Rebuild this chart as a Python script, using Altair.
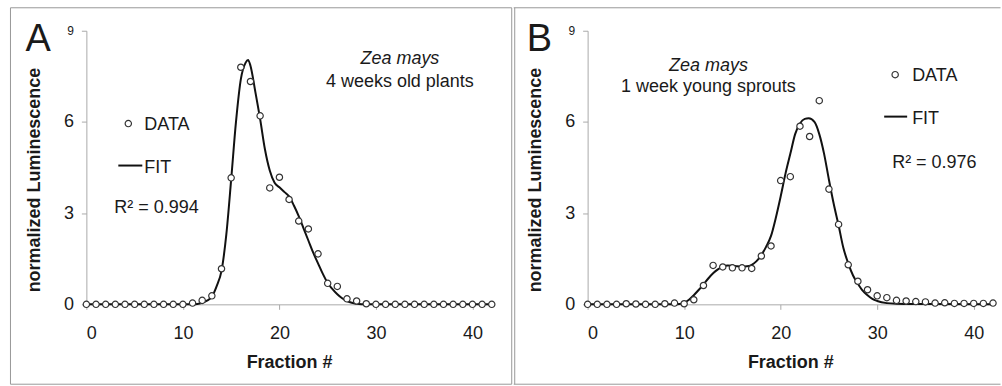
import altair as alt
import pandas as pd

# ---------------- data ----------------
fractions = [0, 1, 2, 3, 4, 5, 6, 7, 8, 9, 10, 11, 12, 13, 14, 15, 16, 17, 18, 19, 20,
             21, 22, 23, 24, 25, 26, 27, 28, 29, 30, 31, 32, 33, 34, 35, 36, 37, 38, 39, 40, 41, 42]

data_a = [0, 0, 0, 0, 0, 0, 0, 0, 0, 0, 0,
          0.04, 0.13, 0.28, 1.17, 4.16, 7.8, 7.33, 6.2, 3.83, 4.18,
          3.45, 2.74, 2.48, 1.66, 0.69, 0.59, 0.18, 0.11, 0.02, 0,
          0, 0, 0, 0, 0, 0, 0, 0, 0, 0, 0, 0]

data_b = [0, 0, 0, 0, 0.02, 0.01, 0, 0, 0.02, 0.04, 0.02,
          0.15, 0.62, 1.28, 1.23, 1.2, 1.2, 1.18, 1.59, 1.92, 4.07,
          4.2, 5.86, 5.52, 6.7, 3.79, 2.63, 1.3, 0.76, 0.48, 0.28,
          0.22, 0.13, 0.11, 0.09, 0.08, 0.04, 0.05, 0.03, 0.03, 0.03, 0.03, 0.04]

fit_a_x = [0, 11, 11.5, 12, 12.5, 13, 13.5, 14, 14.5, 15, 15.5, 16, 16.5, 16.75, 17, 17.5,
           18, 18.5, 19, 19.5, 20, 20.5, 21, 21.5, 22, 22.5, 23, 23.5, 24, 24.5, 25, 25.5,
           26, 26.5, 27, 27.5, 28, 29, 42]
fit_a_y = [0, 0, 0.01, 0.05, 0.12, 0.25, 0.6, 1.1, 2.3, 4.1, 6.0, 7.4, 7.95, 8.04, 7.85, 7.0,
           6.1, 5.1, 4.4, 4.0, 3.85, 3.7, 3.55, 3.25, 2.9, 2.5, 2.1, 1.7, 1.35, 1.0, 0.7, 0.5,
           0.33, 0.2, 0.11, 0.05, 0.02, 0, 0]

fit_b_x = [0, 9, 9.5, 10, 10.5, 11, 11.5, 12, 12.5, 13, 13.5, 14, 14.5, 15, 15.5, 16, 16.5,
           17, 17.5, 18, 18.5, 19, 19.5, 20, 20.5, 21, 21.5, 22, 22.5, 22.9, 23.5, 24, 24.5,
           25, 25.5, 26, 26.5, 27, 27.5, 28, 28.5, 29, 29.5, 30, 31, 32, 34, 42]
fit_b_y = [0, 0, 0.01, 0.05, 0.15, 0.3, 0.47, 0.65, 0.85, 1.02, 1.15, 1.24, 1.28, 1.27, 1.25,
           1.24, 1.25, 1.3, 1.42, 1.62, 1.9, 2.25, 2.85, 3.55, 4.3, 4.95, 5.6, 5.95, 6.1, 6.12,
           6.0, 5.6, 4.95, 4.1, 3.3, 2.6, 1.85, 1.35, 0.95, 0.68, 0.45, 0.3, 0.18, 0.11, 0.04,
           0.02, 0.01, 0]

x_ticks = [0, 10, 20, 30, 40]
y_ticks = [0, 3, 6, 9]

FONT = "Liberation Sans"
TXT = "#1a1a1a"
AXISC = "#aaaaaa"
FRAME = "#999999"
W, H = 406, 274

one = pd.DataFrame({"k": [0]})


def panel(points, fit_x, fit_y, letter, species_y, sub_text, sub_y, ann_x,
          leg_circle, leg_data_text, leg_line, leg_fit_text, r2_pos, r2_text, frame_layers):
    pts = pd.DataFrame({"Fraction": fractions, "Lum": points})
    fit = pd.DataFrame({"Fraction": fit_x, "Lum": fit_y})

    xs = alt.Scale(domain=[0, 42], nice=False, zero=False)
    ys = alt.Scale(domain=[0, 9], nice=False)
    xax = alt.Axis(values=x_ticks, title="Fraction #", grid=False, tickSize=5,
                   labelPadding=15, titleY=58, titleBaseline="middle")
    yax = alt.Axis(values=y_ticks, title="normalized Luminescence", grid=False, tickSize=5,
                   labelPadding=8, titleX=-52, titleY=149, titleAngle=270,
                   titleAlign="center", titleBaseline="middle",
                   labelFontSize={"expr": "datum.value === 9 ? 12 : 18"})

    line = alt.Chart(fit).mark_line(color="#111111", strokeWidth=2, interpolate="monotone").encode(
        x=alt.X("Fraction:Q", scale=xs, axis=xax),
        y=alt.Y("Lum:Q", scale=ys, axis=yax),
    )
    dots = alt.Chart(pts).mark_point(shape="circle", filled=False, fill="white", fillOpacity=1,
                                     stroke="#333333", strokeWidth=1.2, size=40, opacity=1).encode(
        x=alt.X("Fraction:Q", scale=xs),
        y=alt.Y("Lum:Q", scale=ys),
    )

    def txt(s, x, y, size=18, align="left", style="normal", baseline="alphabetic"):
        return alt.Chart(one).mark_text(text=s, font=FONT, fontSize=size, color=TXT,
                                        align=align, baseline=baseline, fontStyle=style).encode(
            x=alt.value(x), y=alt.value(y))

    layers = list(frame_layers)
    layers += [line, dots]
    layers.append(txt(letter, -61, 20, size=38))
    layers.append(txt("Zea mays", ann_x, species_y, align="center", style="italic"))
    layers.append(txt(sub_text, ann_x, sub_y, align="center"))
    layers.append(alt.Chart(one).mark_point(shape="circle", filled=False, fill="white",
                                            fillOpacity=1, stroke="#333333", strokeWidth=1.2,
                                            size=40, opacity=1).encode(
        x=alt.value(leg_circle[0]), y=alt.value(leg_circle[1])))
    layers.append(txt("DATA", leg_data_text[0], leg_data_text[1]))
    layers.append(alt.Chart(one).mark_rule(color="#111111", strokeWidth=2).encode(
        x=alt.value(leg_line[0]), x2=alt.value(leg_line[1]), y=alt.value(leg_line[2])))
    layers.append(txt("FIT", leg_fit_text[0], leg_fit_text[1]))
    layers.append(txt(r2_text, r2_pos[0], r2_pos[1]))
    return alt.layer(*layers).properties(width=W, height=H)


frame_a = [
    alt.Chart(one).mark_rect(fillOpacity=0, stroke=FRAME, strokeWidth=1).encode(
        x=alt.value(-76), x2=alt.value(426), y=alt.value(-23), y2=alt.value(354))
]
frame_b = [
    alt.Chart(one).mark_rule(color=FRAME, strokeWidth=1).encode(
        x=alt.value(-73), y=alt.value(-23), y2=alt.value(354)),
    alt.Chart(one).mark_rule(color=FRAME, strokeWidth=1).encode(
        x=alt.value(-74), x2=alt.value(413.5), y=alt.value(-23)),
    alt.Chart(one).mark_rule(color=FRAME, strokeWidth=1).encode(
        x=alt.value(-74), x2=alt.value(413.5), y=alt.value(354)),
]

pa = panel(data_a, fit_a_x, fit_a_y, "A", 33, "4 weeks old plants", 56, 314,
           (42, 93), (58, 99), (32, 56, 135), (58, 142), (28, 183), "R² = 0.994", frame_a)
pb = panel(data_b, fit_b_x, fit_b_y, "B", 40, "1 week young sprouts", 61, 121,
           (308, 44), (325, 50), (297, 320, 86), (325, 93), (305, 137), "R² = 0.976", frame_b)

chart = alt.hconcat(pa, pb, spacing=96, bounds="flush").properties(
    padding={"left": 9.5, "top": 6.5, "right": 0, "bottom": 0},
    background="white",
).configure_view(stroke="transparent").configure_axis(
    labelFont=FONT, labelFontSize=18, labelColor=TXT,
    titleFont=FONT, titleFontSize=18, titleFontWeight="bold", titleColor=TXT,
    domainColor=AXISC, tickColor=AXISC, domainWidth=1, tickWidth=1,
)

chart.save("out.html", embed_options={"renderer": "svg", "actions": False})
